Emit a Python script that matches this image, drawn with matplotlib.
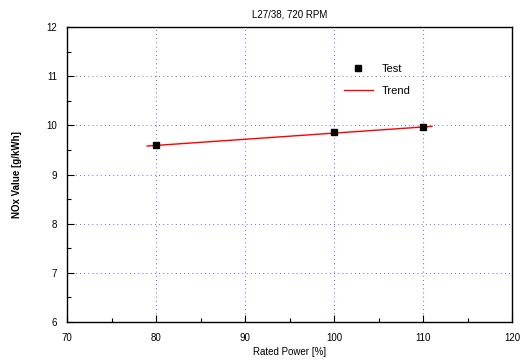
import numpy as np
import matplotlib.pyplot as plt
from matplotlib.ticker import MultipleLocator

plt.rcParams['font.family'] = ['Liberation Sans', 'DejaVu Sans']

# data
power = [80, 100, 110]
nox = [9.60, 9.87, 9.97]
trend_x = [79, 111]
trend_y = [9.58, 9.98]

fig = plt.figure(figsize=(5.29, 3.61), dpi=100)
ax = fig.add_axes([0.1267, 0.108, 0.8413, 0.817])

ax.plot(trend_x, trend_y, color='red', linewidth=1.0, label='Trend', zorder=3)
ax.plot(power, nox, 's', color='black', markersize=4, label='Test', zorder=4)

ax.set_xlim(70, 120)
ax.set_ylim(6, 12)
ax.xaxis.set_major_locator(MultipleLocator(10))
ax.xaxis.set_minor_locator(MultipleLocator(5))
ax.yaxis.set_major_locator(MultipleLocator(1))
ax.yaxis.set_minor_locator(MultipleLocator(0.5))
ax.tick_params(which='both', direction='in', top=False, right=False, labelsize=7)
ax.tick_params(axis='x', which='major', pad=8)
ax.tick_params(axis='y', which='major', pad=7)
ax.tick_params(which='major', length=5, width=0.8)
ax.tick_params(which='minor', length=3, width=0.8)

ax.grid(True, which='major', color='#3030ff', linestyle=(0, (1, 4)), linewidth=0.6)

for s in ax.spines.values():
    s.set_linewidth(1.0)

ax.set_title('L27/38, 720 RPM', fontsize=7, pad=7)
ax.set_xlabel('Rated Power [%]', fontsize=7, labelpad=3)
ax.set_ylabel('NOx Value [g/kWh]', fontsize=7, fontweight='bold', labelpad=18)

h, l = ax.get_legend_handles_labels()
ax.legend(h[::-1], l[::-1], loc='upper left', bbox_to_anchor=(0.6, 0.91),
          frameon=False, fontsize=8, handlelength=2.6, labelspacing=1.1)

fig.savefig('out.png', dpi=100)
